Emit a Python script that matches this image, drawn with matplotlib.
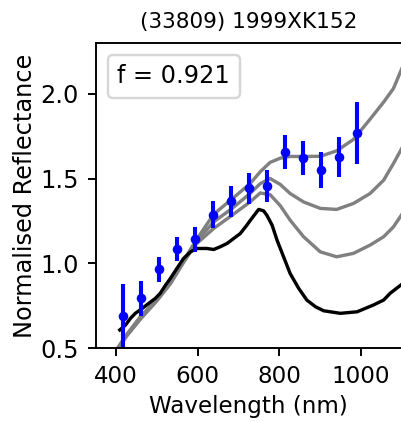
import matplotlib
matplotlib.use('Agg')
import matplotlib.pyplot as plt
import numpy as np

title = '(33809) 1999XK152'
fit_label = 'f = 0.921'

# Gaia reflectance points
wave_obs = [418, 462, 506, 550, 594, 638, 682, 726, 770, 814, 858, 902, 946, 990]
refl_obs = [0.690, 0.794, 0.965, 1.084, 1.141, 1.288, 1.365, 1.443, 1.455,
            1.656, 1.621, 1.549, 1.627, 1.768]
refl_err = [0.19, 0.104, 0.072, 0.072, 0.071, 0.08, 0.09, 0.092, 0.094,
            0.098, 0.10, 0.106, 0.118, 0.182]

# reference (black) spectrum
wave_ref = [409, 423, 435, 447, 464, 480, 496, 508, 521, 533, 549, 565, 582,
            598, 622, 639, 655, 672, 688, 704, 720, 729, 749, 761, 769, 782,
            794, 810, 826, 847, 867, 888, 908, 949, 990, 1030, 1055, 1071, 1100]
refl_ref = [0.608, 0.637, 0.676, 0.706, 0.735, 0.765, 0.794, 0.824, 0.872,
            0.912, 0.971, 1.029, 1.068, 1.088, 1.088, 1.082, 1.098, 1.118,
            1.147, 1.176, 1.225, 1.255, 1.318, 1.31, 1.284, 1.225, 1.137,
            1.039, 0.941, 0.853, 0.784, 0.745, 0.721, 0.706, 0.715, 0.755,
            0.784, 0.824, 0.878]

# model (grey) spectra
wave_mod = [395, 427, 459, 500, 533, 565, 594, 639, 684, 728, 753, 777, 802,
            826, 859, 900, 940, 981, 1022, 1055, 1079, 1100]
refl_mod_hi = [0.47, 0.585, 0.685, 0.79, 0.89, 1.015, 1.13, 1.29, 1.38, 1.47,
               1.54, 1.595, 1.62, 1.63, 1.63, 1.631, 1.663, 1.73, 1.85, 1.95,
               2.03, 2.15]
refl_mod_mid = [0.47, 0.58, 0.675, 0.785, 0.885, 1.01, 1.12, 1.245, 1.324, 1.412,
                1.47, 1.50, 1.465, 1.412, 1.362, 1.324, 1.318, 1.353, 1.412,
                1.49, 1.588, 1.68]
refl_mod_lo = [0.47, 0.575, 0.67, 0.78, 0.88, 1.005, 1.11, 1.206, 1.284,
               1.362, 1.415, 1.405, 1.34, 1.255, 1.157, 1.068, 1.039, 1.059,
               1.108, 1.157, 1.215, 1.29]

fig = plt.figure(figsize=(401 / 173, 421 / 173), dpi=173)
ax = fig.add_axes([95.7 / 401, 72.7 / 421, 306.3 / 401, 305.6 / 421])

for r in [refl_mod_hi, refl_mod_mid, refl_mod_lo]:
    ax.plot(wave_mod, r, color='gray', lw=1.4)
ax.plot(wave_ref, refl_ref, color='black', lw=1.4)
ax.errorbar(wave_obs, refl_obs, yerr=refl_err, fmt='o', color='blue',
            ms=4, mew=0, elinewidth=1.7, capsize=0)

ax.plot([], [], ' ', label=fit_label)
ax.legend(loc='upper left', handlelength=0, handletextpad=0)

ax.set_xlim(350, 1100)
ax.set_ylim(0.5, 2.3)
ax.set_xticks([400, 600, 800, 1000])
ax.set_yticks([0.5, 1.0, 1.5, 2.0])
ax.tick_params(axis='x', labelsize=9.6)
ax.tick_params(axis='y', labelsize=10)
ax.set_xlabel('Wavelength (nm)', fontsize=9.6, labelpad=3)
ax.set_ylabel('Normalised Reflectance', labelpad=1.5)
ax.set_title(title, fontsize=9)

fig.savefig('out.png', dpi=173)
